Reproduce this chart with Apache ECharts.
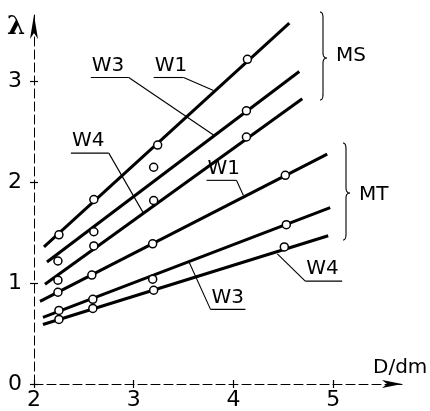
<!DOCTYPE html>
<html>
<head>
<meta charset="utf-8">
<script src="https://cdn.jsdelivr.net/npm/echarts@6/dist/echarts.min.js"></script>
<style>html,body{margin:0;padding:0;background:#fff}#c{width:430px;height:411px}</style>
</head>
<body>
<div id="c"></div>
<script>
// ---- data ----
const xTicks = [2, 3, 4, 5];
const yTicks = [0, 1, 2, 3];
// fitted lines: [start, end] in (D/dm, lambda)
const msW1Line = [[2.10, 1.36], [4.56, 3.58]];
const msW3Line = [[2.13, 1.21], [4.66, 3.10]];
const msW4Line = [[2.11, 0.99], [4.69, 2.83]];
const mtW1Line = [[2.06, 0.82], [4.94, 2.28]];
const mtW3Line = [[2.09, 0.66], [4.97, 1.75]];
const mtW4Line = [[2.09, 0.59], [4.95, 1.47]];
// measured points
const msW1Pts = [[2.25, 1.48], [2.60, 1.83], [3.24, 2.37], [4.14, 3.22]];
const msW3Pts = [[2.24, 1.22], [2.60, 1.51], [3.20, 2.15], [4.13, 2.71]];
const msW4Pts = [[2.24, 1.03], [2.60, 1.37], [3.20, 1.82], [4.13, 2.45]];
const mtW1Pts = [[2.24, 0.91], [2.58, 1.08], [3.19, 1.39], [4.52, 2.07]];
const mtW3Pts = [[2.25, 0.73], [2.59, 0.84], [3.19, 1.04], [4.53, 1.58]];
const mtW4Pts = [[2.25, 0.64], [2.59, 0.75], [3.20, 0.93], [4.51, 1.36]];
// annotations: label, underline start, underline end, leader target (data coords)
const annotations = [
  ['W3', [2.57, 3.04], [2.95, 3.04], [3.80, 2.47], 'right'],
  ['W1', [3.20, 3.04], [3.50, 3.04], [3.80, 2.91], 'right'],
  ['W4', [2.37, 2.29], [2.75, 2.29], [3.10, 1.69], 'right'],
  ['W1', [3.73, 2.02], [4.03, 2.02], [4.10, 1.87], 'right'],
  ['W3', [3.77, 0.74], [4.12, 0.74], [3.55, 1.22], 'left'],
  ['W4', [4.72, 1.02], [5.09, 1.02], [4.44, 1.29], 'left']
];

const FONT = 'DejaVu Sans';
const lineSeries = [msW1Line, msW3Line, msW4Line, mtW1Line, mtW3Line, mtW4Line].map(d => ({
  type: 'line', data: d, symbol: 'none', silent: true, z: 3,
  lineStyle: { color: '#000', width: 3 }
}));
const ptSeries = [msW1Pts, msW3Pts, msW4Pts, mtW1Pts, mtW3Pts, mtW4Pts].map(d => ({
  type: 'scatter', data: d, symbol: 'circle', symbolSize: 8, z: 5,
  itemStyle: { color: '#fff', borderColor: '#000', borderWidth: 1.5, opacity: 1 }
}));

const grid = { left: 34, right: 28, top: 15, bottom: 27 };
const xBase = { type: 'value', min: 2, max: 5.69, interval: 1, splitLine: { show: false } };
const yBase = { type: 'value', min: 0, max: 3.66, interval: 1, splitLine: { show: false } };

const chart = echarts.init(document.getElementById('c'), null, { renderer: 'canvas' });
chart.setOption({
  animation: false,
  backgroundColor: '#fff',
  grid: grid,
  xAxis: [
    Object.assign({}, xBase, {
      axisLine: { show: true, onZero: false, symbol: ['none', 'arrow'], symbolSize: [6, 20],
        lineStyle: { color: '#000', width: 1, type: [9, 4] } },
      axisTick: { show: true, length: 4, customValues: xTicks, lineStyle: { color: '#000', width: 1.2 } },
      axisLabel: { customValues: xTicks, margin: 5, color: '#000', fontSize: 22, fontFamily: FONT }
    }),
    Object.assign({}, xBase, {
      position: 'bottom',
      axisLine: { show: false }, axisLabel: { show: false },
      axisTick: { show: true, inside: true, length: 4, customValues: xTicks, lineStyle: { color: '#000', width: 1.2 } }
    })
  ],
  yAxis: [
    Object.assign({}, yBase, {
      axisLine: { show: true, onZero: false, symbol: ['none', 'arrow'], symbolSize: [6, 24],
        lineStyle: { color: '#000', width: 1, type: [9, 4] } },
      axisTick: { show: true, length: 4, customValues: yTicks, lineStyle: { color: '#000', width: 1.2 } },
      axisLabel: { customValues: yTicks, margin: 12, color: '#000', fontSize: 22, fontFamily: FONT }
    }),
    Object.assign({}, yBase, {
      position: 'left',
      axisLine: { show: false }, axisLabel: { show: false },
      axisTick: { show: true, inside: true, length: 4, customValues: yTicks, lineStyle: { color: '#000', width: 1.2 } }
    })
  ],
  series: lineSeries.concat(ptSeries)
});

// ---- annotations (placed from data coordinates) ----
const px = p => chart.convertToPixel({ xAxisIndex: 0, yAxisIndex: 0 }, p);
const g = [];
const thin = { stroke: '#000', lineWidth: 1.1, fill: null };
annotations.forEach(a => {
  const s = px(a[1]), e = px(a[2]), t = px(a[3]);
  const from = a[4] === 'right' ? e : s;
  g.push({ type: 'polyline', shape: { points: [s, e] }, style: thin, z: 10 });
  g.push({ type: 'polyline', shape: { points: [from, t] }, style: thin, z: 10 });
  g.push({ type: 'text', x: s[0] + 1, y: s[1] - 2, z: 10,
    style: { text: a[0], fill: '#000', font: '20px "' + FONT + '"', textAlign: 'left', textVerticalAlign: 'bottom' } });
});
function quad(p0, c, p1, out) {
  for (let i = 0; i <= 8; i++) {
    const t = i / 8, u = 1 - t;
    out.push([u * u * p0[0] + 2 * u * t * c[0] + t * t * p1[0], u * u * p0[1] + 2 * u * t * c[1] + t * t * p1[1]]);
  }
}
function brace(x0, y0, y1, tipY) {
  const xv = x0 + 3, xt = x0 + 7, pts = [];
  quad([x0, y0], [xv, y0], [xv, y0 + 6], pts);
  quad([xv, tipY - 5], [xv, tipY], [xt, tipY], pts);
  quad([xt, tipY], [xv, tipY], [xv, tipY + 5], pts);
  quad([xv, y1 - 6], [xv, y1], [x0, y1], pts);
  return pts;
}
g.push({ type: 'polyline', shape: { points: brace(320, 12, 100, 58) }, style: thin, z: 10 });
g.push({ type: 'text', x: 336, y: 56, z: 10, style: { text: 'MS', fill: '#000', font: '20px "' + FONT + '"', textVerticalAlign: 'middle' } });
g.push({ type: 'polyline', shape: { points: brace(343, 143, 240, 193) }, style: thin, z: 10 });
g.push({ type: 'text', x: 359, y: 195, z: 10, style: { text: 'MT', fill: '#000', font: '20px "' + FONT + '"', textVerticalAlign: 'middle' } });
g.push({ type: 'text', x: 7, y: 27, z: 10, style: { text: 'λ', fill: '#000', font: 'bold 26px "DejaVu Serif"', textVerticalAlign: 'middle' } });
g.push({ type: 'text', x: 373, y: 368, z: 10, style: { text: 'D/dm', fill: '#000', font: '20px "' + FONT + '"', textVerticalAlign: 'middle' } });
chart.setOption({ graphic: g });
</script>
</body>
</html>
